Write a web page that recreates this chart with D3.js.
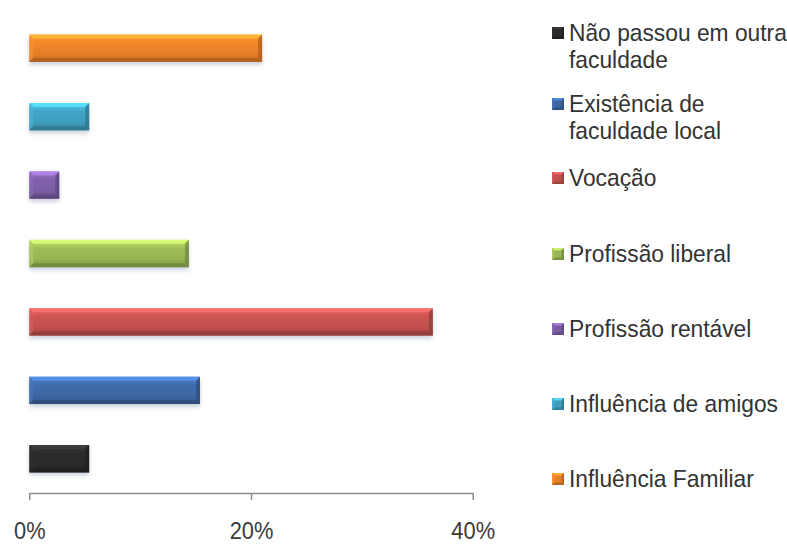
<!DOCTYPE html>
<html>
<head>
<meta charset="utf-8">
<script src="https://cdn.jsdelivr.net/npm/d3@7"></script>
<style>
  html, body { margin: 0; padding: 0; background: #fff; }
  svg { display: block; }
</style>
</head>
<body>
<svg id="chart" width="787" height="544"></svg>
<script>
// Motivos de escolha do curso (%)
const categories = [
  "Não passou em outra faculdade",
  "Existência de faculdade local",
  "Vocação",
  "Profissão liberal",
  "Profissão rentável",
  "Influência de amigos",
  "Influência Familiar"
];
const values = [5.4, 15.4, 36.4, 14.4, 2.7, 5.4, 21.0];
const legendLines = [
  ["Não passou em outra", "faculdade"],
  ["Existência de", "faculdade local"],
  ["Vocação"],
  ["Profissão liberal"],
  ["Profissão rentável"],
  ["Influência de amigos"],
  ["Influência Familiar"]
];
const colors = ["#2a2a2a", "#3d66a3", "#c0504d", "#98b454", "#7b5ca3", "#3e9dbd", "#e67f28"];
const tickValues = [0, 20, 40];

const svg = d3.select("#chart");
const margin = { left: 29.3, right: 472.7, top: 14, bottom: 493 };
const fontFamily = "'Liberation Sans', Arial, sans-serif";

const x = d3.scaleLinear().domain([0, 40]).range([margin.left, margin.right]);
const y = d3.scaleBand()
  .domain(d3.range(categories.length).reverse())
  .range([margin.top, margin.bottom])
  .paddingInner(0.6)
  .paddingOuter(0.3);

const defs = svg.append("defs");
const shadow = defs.append("filter").attr("id", "shadow")
  .attr("x", "-10%").attr("y", "-30%").attr("width", "120%").attr("height", "180%");
shadow.append("feDropShadow")
  .attr("dx", 0).attr("dy", 3).attr("stdDeviation", 2.2)
  .attr("flood-color", "#6a7f9a").attr("flood-opacity", 0.35);

colors.forEach((c, i) => {
  const base = d3.color(c);
  const g = defs.append("linearGradient").attr("id", "grad" + i)
    .attr("x1", 0).attr("y1", 0).attr("x2", 0).attr("y2", 1);
  g.append("stop").attr("offset", "0%").attr("stop-color", base.brighter(0.7));
  g.append("stop").attr("offset", "30%").attr("stop-color", base.brighter(0.15));
  g.append("stop").attr("offset", "70%").attr("stop-color", base);
  g.append("stop").attr("offset", "100%").attr("stop-color", base.darker(0.5));
});

// Bars with bevelled edges
const bev = 4;
const bars = svg.append("g").selectAll("g.bar")
  .data(values.map((v, i) => ({ v, i })))
  .join("g").attr("class", "bar");

bars.append("rect")
  .attr("x", x(0))
  .attr("y", d => y(d.i))
  .attr("width", d => x(d.v) - x(0))
  .attr("height", y.bandwidth())
  .attr("fill", d => `url(#grad${d.i})`)
  .attr("filter", "url(#shadow)");

function bevelPaths(x0, x1, y0, y1, c, b) {
  b = Math.min(b, (x1 - x0) / 2, (y1 - y0) / 2);
  const col = d3.color(c);
  return [
    { pts: [[x0, y0], [x1, y0], [x1 - b, y0 + b], [x0 + b, y0 + b]], f: col.brighter(1.1), o: 0.75 },
    { pts: [[x0, y1], [x1, y1], [x1 - b, y1 - b], [x0 + b, y1 - b]], f: col.darker(0.9), o: 0.7 },
    { pts: [[x0, y0], [x0 + b, y0 + b], [x0 + b, y1 - b], [x0, y1]], f: col.brighter(0.4), o: 0.6 },
    { pts: [[x1, y0], [x1 - b, y0 + b], [x1 - b, y1 - b], [x1, y1]], f: col.darker(0.8), o: 0.75 }
  ];
}

bars.each(function(d) {
  const y0 = y(d.i);
  d3.select(this).selectAll("path.bevel")
    .data(bevelPaths(x(0), x(d.v), y0, y0 + y.bandwidth(), colors[d.i], bev))
    .join("path").attr("class", "bevel")
    .attr("d", p => d3.line()(p.pts) + "Z")
    .attr("fill", p => p.f)
    .attr("fill-opacity", p => p.o);
});

// Horizontal axis
const axis = d3.axisBottom(x)
  .tickValues(tickValues)
  .tickFormat(d => d + "%")
  .tickSizeInner(7)
  .tickSizeOuter(0)
  .tickPadding(23);

const ax = svg.append("g").attr("transform", `translate(0,${margin.bottom})`).call(axis);
ax.select(".domain").attr("stroke", "#8c8c8c").attr("stroke-width", 1.5);
ax.selectAll(".tick line").attr("stroke", "#8c8c8c").attr("stroke-width", 1.5);
ax.selectAll(".tick text")
  .attr("fill", "#3a3a3a")
  .attr("transform", "scale(0.95,1)")
  .style("font-family", fontFamily)
  .style("font-size", "23px");

// Legend
const legendY = [33, 104, 178, 254, 329, 404, 479];
const legend = svg.append("g").selectAll("g.item")
  .data(legendLines.map((lines, i) => ({ lines, i })))
  .join("g").attr("class", "item")
  .attr("transform", d => `translate(552,${legendY[d.i]})`);

legend.append("rect")
  .attr("x", 0).attr("y", -6)
  .attr("width", 12).attr("height", 12)
  .attr("fill", d => colors[d.i]);

legend.each(function(d) {
  d3.select(this).selectAll("path.bevel")
    .data(bevelPaths(0, 12, -6, 6, colors[d.i], 2.5))
    .join("path").attr("class", "bevel")
    .attr("d", p => d3.line()(p.pts) + "Z")
    .attr("fill", p => p.f)
    .attr("fill-opacity", p => p.o);
});

legend.append("text")
  .attr("transform", "translate(17,0) scale(0.95,1)")
  .attr("fill", "#333")
  .style("font-family", fontFamily)
  .style("font-size", "24px")
  .selectAll("tspan")
  .data(d => d.lines)
  .join("tspan")
  .attr("x", 0)
  .attr("dy", (t, j) => j === 0 ? "0.35em" : "27px")
  .text(t => t);
</script>
</body>
</html>
